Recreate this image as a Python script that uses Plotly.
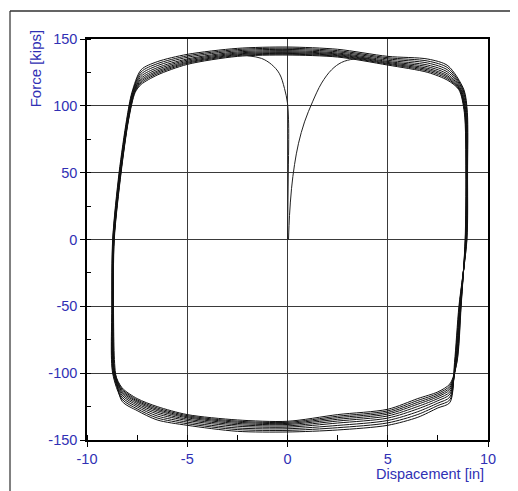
import plotly.graph_objects as go

# ---------------- data ----------------
N_CYCLES = 9

# left side of each loop (reloading, going up): shared force levels, x per cycle
LEFT_Y = [-100, -50, 0, 50, 90, 110]
LEFT_X = [
    [-8.58, -8.60, -8.61, -8.63, -8.64, -8.66, -8.68, -8.70, -8.72],
    [-8.68, -8.69, -8.70, -8.70, -8.71, -8.72, -8.74, -8.75, -8.76],
    [-8.64, -8.65, -8.66, -8.66, -8.67, -8.68, -8.70, -8.71, -8.72],
    [-8.30, -8.31, -8.32, -8.33, -8.34, -8.35, -8.37, -8.38, -8.40],
    [-7.92, -7.93, -7.94, -7.95, -7.96, -7.97, -7.99, -8.00, -8.02],
    [-7.60, -7.62, -7.64, -7.66, -7.68, -7.70, -7.72, -7.74, -7.76],
]

# top branch: shared displacements, force per cycle
TOP_X = [-7.3, -6.5, -5, -2.5, 0, 2.5, 5, 7, 8]
TOP_Y = [
    [116, 117.1, 118.2, 119.3, 120.6, 122.1, 123.7, 125.4, 127],
    [123, 124, 125, 126, 127.2, 128.5, 130, 131.5, 133],
    [131, 131.8, 132.5, 133.3, 134.2, 135.1, 136.3, 137.4, 138.5],
    [137, 137.6, 138.2, 138.8, 139.5, 140.3, 141.2, 142.1, 143],
    [138, 138.6, 139.2, 139.8, 140.5, 141.3, 142.2, 143.1, 144],
    [136.5, 137.1, 137.6, 138.2, 138.8, 139.5, 140.4, 141.3, 142.3],
    [130.5, 131.2, 131.8, 132.5, 133.2, 134.1, 135.1, 136, 137],
    [125, 126, 127, 128, 129.2, 130.5, 132, 133.5, 135],
    [119, 120.1, 121.2, 122.3, 123.6, 125.1, 126.7, 128.4, 130],
]

# right side (unloading, going down): shared force levels, x per cycle
RIGHT_Y = [112, 95, 50, 0, -50, -92]
RIGHT_X = [
    [8.55, 8.58, 8.60, 8.63, 8.66, 8.70, 8.74, 8.77, 8.80],
    [8.82, 8.84, 8.85, 8.87, 8.88, 8.90, 8.93, 8.95, 8.97],
    [8.90, 8.91, 8.92, 8.92, 8.93, 8.94, 8.96, 8.97, 8.98],
    [8.86, 8.87, 8.88, 8.89, 8.90, 8.91, 8.92, 8.94, 8.95],
    [8.66, 8.65, 8.64, 8.63, 8.62, 8.60, 8.58, 8.57, 8.55],
    [8.45, 8.44, 8.42, 8.41, 8.40, 8.38, 8.36, 8.35, 8.33],
]

# bottom branch: shared displacements, force per cycle
BOT_X = [8.1, 7.5, 6.5, 5, 2.5, 0, -2.5, -5, -6.5, -7.5, -8.25]
BOT_Y = [
    [-108, -109.4, -110.8, -112.2, -113.9, -115.7, -117.8, -119.9, -122],
    [-114, -115.2, -116.4, -117.6, -119, -120.6, -122.4, -124.2, -126],
    [-119, -120.4, -121.8, -123.2, -124.9, -126.7, -128.8, -130.9, -133],
    [-127, -128.2, -129.4, -130.6, -132, -133.6, -135.4, -137.2, -139],
    [-131, -132.2, -133.3, -134.5, -135.8, -137.3, -139.1, -140.8, -142.5],
    [-136, -136.8, -137.6, -138.4, -139.4, -140.4, -141.6, -142.8, -144],
    [-135, -135.9, -136.7, -137.6, -138.6, -139.7, -141, -142.2, -143.5],
    [-131, -131.8, -132.6, -133.4, -134.4, -135.4, -136.6, -137.8, -139],
    [-125, -126, -127, -128, -129.2, -130.5, -132, -133.5, -135],
    [-119, -119.9, -120.8, -121.7, -122.8, -124, -125.3, -126.7, -128],
    [-111, -112, -113, -114, -115.2, -116.5, -118, -119.5, -121],
]

# two initial loading curves starting near the origin
CURVE_A_X = [0.0, 0.02, 0.04, 0.06, 0.05, 0.0, -0.15, -0.4, -0.8, -1.3, -2.0]
CURVE_A_Y = [0, 25, 50, 75, 90, 102, 113, 124, 131, 135.5, 137.5]
CURVE_B_X = [0.05, 0.1, 0.2, 0.35, 0.55, 0.85, 1.25, 1.7, 2.2, 2.7, 3.3, 4.0]
CURVE_B_Y = [0, 18, 38, 56, 72, 88, 103, 117, 127, 132.5, 135, 135.5]

X_TICKS = [-10, -5, 0, 5, 10]
X_TICK_TEXT = ["-10", "-5", "0", "5", "10"]
Y_TICKS = [-150, -100, -50, 0, 50, 100, 150]
Y_TICK_TEXT = ["-150", "-100", "-50", "0", "50", "100", "150"]

# ---------------- build the hysteresis path ----------------
hx, hy = [], []
for k in range(N_CYCLES):
    for i, yv in enumerate(LEFT_Y):
        hx.append(LEFT_X[i][k]); hy.append(yv)
    for i, xv in enumerate(TOP_X):
        hx.append(xv); hy.append(TOP_Y[i][k])
    for i, yv in enumerate(RIGHT_Y):
        hx.append(RIGHT_X[i][k]); hy.append(yv)
    for i, xv in enumerate(BOT_X):
        hx.append(xv); hy.append(BOT_Y[i][k])
hx.append(LEFT_X[0][0]); hy.append(LEFT_Y[0])

BLUE = "#3030b4"
FONT = "Liberation Sans, Arial, sans-serif"

fig = go.Figure()
fig.add_trace(go.Scatter(x=hx, y=hy, mode="lines",
                         line=dict(color="#111111", width=1, shape="spline", smoothing=0.8),
                         hoverinfo="skip"))
fig.add_trace(go.Scatter(x=CURVE_A_X, y=CURVE_A_Y, mode="lines",
                         line=dict(color="#222222", width=1, shape="spline", smoothing=1.0)))
fig.add_trace(go.Scatter(x=CURVE_B_X, y=CURVE_B_Y, mode="lines",
                         line=dict(color="#222222", width=1, shape="spline", smoothing=1.0)))

axis_common = dict(
    showline=True, linecolor="black", linewidth=1.5, mirror=True,
    showgrid=True, gridcolor="#3a3a3a", gridwidth=1,
    zeroline=False,
    ticks="outside", ticklen=5, tickcolor="black", tickwidth=1,
    tickfont=dict(family=FONT, size=14.5, color=BLUE),
)

fig.update_xaxes(range=[-10, 10], tickvals=X_TICKS, ticktext=X_TICK_TEXT,
                 minor=dict(ticks="inside", ticklen=5, dtick=2.5, tickcolor="black", showgrid=False),
                 **axis_common)
fig.update_yaxes(range=[-150, 150], tickvals=Y_TICKS, ticktext=Y_TICK_TEXT,
                 minor=dict(ticks="inside", ticklen=4, dtick=25, tickcolor="black", showgrid=False),
                 **axis_common)

# the page body has an 8px margin, so the figure is shrunk by that amount
fig.update_layout(
    width=510, height=483,
    margin=dict(l=79, r=30, t=31, b=51),
    paper_bgcolor="white", plot_bgcolor="white",
    showlegend=False,
    annotations=[
        dict(text="Force [kips]", xref="paper", yref="paper", x=-0.128, y=0.926,
             textangle=-90, showarrow=False, xanchor="center", yanchor="middle",
             font=dict(family=FONT, size=15, color=BLUE)),
        dict(text="Dispacement [in]", xref="paper", yref="paper", x=0.995, y=-0.084,
             showarrow=False, xanchor="right", yanchor="middle",
             font=dict(family=FONT, size=14.5, color=BLUE)),
    ],
    shapes=[
        dict(type="line", xref="paper", yref="paper", x0=-0.192, x1=-0.192, y0=1.0698, y1=-0.13,
             line=dict(color="#808080", width=2)),
        dict(type="line", xref="paper", yref="paper", x0=-0.192, x1=1.08, y0=1.0698, y1=1.0698,
             line=dict(color="#303030", width=1.5)),
    ],
)

fig.write_html("out.html")
